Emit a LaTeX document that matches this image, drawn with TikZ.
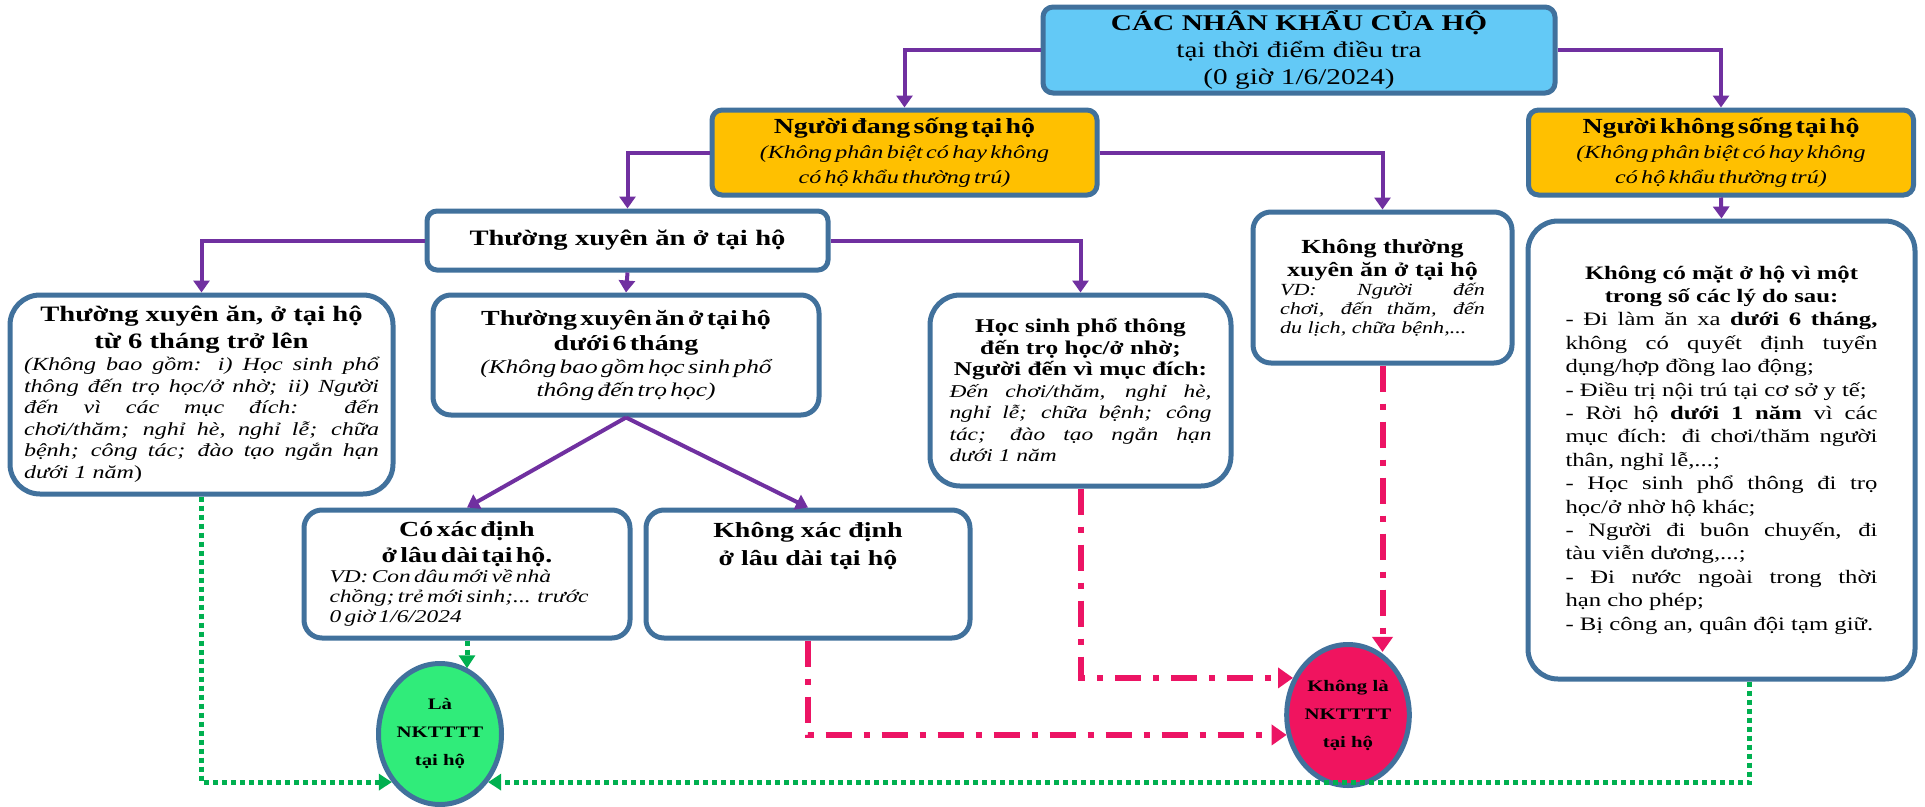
\documentclass[tikz,border=0pt]{standalone}
\usepackage{fontspec}
\setmainfont{Liberation Serif}[FakeStretch=1.3]
\usetikzlibrary{arrows.meta,shapes.geometric}

\definecolor{frameblue}{RGB}{65,113,156}
\definecolor{skyfill}{RGB}{99,201,246}
\definecolor{goldfill}{RGB}{255,192,0}
\definecolor{linkpurple}{RGB}{112,48,160}
\definecolor{keepgreen}{RGB}{0,176,80}
\definecolor{keepfill}{RGB}{48,236,122}
\definecolor{droppink}{RGB}{236,20,100}
\definecolor{dropfill}{RGB}{240,20,95}

\begin{document}
\begin{tikzpicture}[x=1pt,y=-1pt,
    headbox/.style ={draw=frameblue, line width=5pt, fill=skyfill, rounded corners=10pt, inner sep=0pt, align=center},
    goldbox/.style ={draw=frameblue, line width=5pt, fill=goldfill, rounded corners=10pt, inner sep=0pt, align=center},
    whitebox/.style={draw=frameblue, line width=5pt, fill=white, rounded corners=18pt, inner sep=0pt},
    verdict/.style ={ellipse, draw=frameblue, line width=5pt, inner sep=0pt, align=center, font=\fontsize{16}{28}\selectfont\bfseries},
    linkarrow/.style={draw=linkpurple, line width=4pt, -{Triangle[width=16pt,length=12pt]}},
    keeparrow/.style={draw=keepgreen, line width=5pt, dash pattern=on 5pt off 4pt, -{Triangle[width=16pt,length=13pt]}},
    droparrow/.style={draw=droppink, line width=6pt, dash pattern=on 26pt off 12pt on 6pt off 12pt, -{Triangle[width=20pt,length=15pt]}}]
   \fill[white] (0,0) rectangle (1925,806);
   \useasboundingbox (0,0) rectangle (1925,806);
   % top level
   \node[headbox, minimum width=512, minimum height=86, text width=500, font=\fontsize{22.5}{27}\selectfont] (census) at (1299,50)
      {\textbf{CÁC NHÂN KHẨU CỦA HỘ}\\ tại thời điểm điều tra\\ (0 giờ 1/6/2024)};
   \node[goldbox, minimum width=385, minimum height=85, text width=375] (live) at (904.5,152.5)
      {{\fontsize{21.5}{26}\selectfont\bfseries Người đang sống tại hộ\par}
       {\fontsize{18.5}{25}\selectfont\itshape (Không phân biệt có hay không\\ có hộ khẩu thường trú)\par}};
   \node[goldbox, minimum width=385, minimum height=85, text width=375] (notlive) at (1721,152.5)
      {{\fontsize{21.5}{26}\selectfont\bfseries Người không sống tại hộ\par}
       {\fontsize{18.5}{25}\selectfont\itshape (Không phân biệt có hay không\\ có hộ khẩu thường trú)\par}};
   % second level
   \node[whitebox, rounded corners=10pt, minimum width=401, minimum height=59, text width=390, align=center,
         font=\fontsize{22}{26}\selectfont\bfseries] (freq) at (627.5,240.5) {Thường xuyên ăn ở tại hộ};
   \node[whitebox, minimum width=259, minimum height=151, text width=205, align=justify] (notfreq) at (1382.5,287.5)
      {{\centering\fontsize{20}{23}\selectfont\bfseries Không thường\\ xuyên ăn ở tại hộ\par}
       {\fontsize{17}{19}\selectfont\itshape VD: Người đến\linebreak chơi, đến thăm, đến\linebreak du lịch, chữa bệnh,...\par}};
   \node[whitebox, rounded corners=30pt, minimum width=387, minimum height=458, text width=312, align=justify] (absent) at (1721.5,450)
      {{\centering\fontsize{19}{23.4}\selectfont\bfseries Không có mặt ở hộ vì một\\ trong số các lý do sau:\par}
       {\fontsize{19}{23.4}\selectfont
        - Đi làm ăn xa \textbf{dưới 6 tháng,}\linebreak không có quyết định tuyển\linebreak dụng/hợp đồng lao động;\\
        - Điều trị nội trú tại cơ sở y tế;\\
        - Rời hộ \textbf{dưới 1 năm} vì các\linebreak mục đích: đi chơi/thăm người\linebreak thân, nghỉ lễ,...;\\
        - Học sinh phổ thông đi trọ\linebreak học/ở nhờ hộ khác;\\
        - Người đi buôn chuyến, đi\linebreak tàu viễn dương,...;\\
        - Đi nước ngoài trong thời\linebreak hạn cho phép;\\
        - Bị công an, quân đội tạm giữ.\par}};
   % third level
   \node[whitebox, rounded corners=30pt, minimum width=383, minimum height=199, text width=355, align=justify] (long) at (201.5,394.5)
      {{\centering\fontsize{22}{27}\selectfont\bfseries Thường xuyên ăn, ở tại hộ\\ từ 6 tháng trở lên\par}
       {\fontsize{18.5}{21.6}\selectfont\itshape (Không bao gồm: i) Học sinh phổ\linebreak thông đến trọ học/ở nhờ; ii) Người\linebreak
        đến vì các mục đích: đến\linebreak chơi/thăm; nghỉ hè, nghỉ lễ; chữa\linebreak bệnh; công tác; đào tạo ngắn hạn\linebreak dưới 1 năm\upshape)\par}};
   \node[whitebox, minimum width=386, minimum height=120, text width=376, align=center] (short) at (626,355)
      {{\fontsize{21.5}{25}\selectfont\bfseries Thường xuyên ăn ở tại hộ\\ dưới 6 tháng\par}
       {\fontsize{19.5}{23}\selectfont\itshape (Không bao gồm học sinh phổ\\ thông đến trọ học)\par}};
   \node[whitebox, rounded corners=30pt, minimum width=301, minimum height=191, text width=262, align=justify] (pupil) at (1080.5,390.5)
      {{\centering\fontsize{19.5}{21.5}\selectfont\bfseries Học sinh phổ thông\\ đến trọ học/ở nhờ;\\ Người đến vì mục đích:\par}
       {\fontsize{18}{21.5}\selectfont\itshape Đến chơi/thăm, nghỉ hè,\linebreak nghỉ lễ; chữa bệnh; công\linebreak tác; đào tạo ngắn hạn\linebreak dưới 1 năm\par}};
   % fourth level
   \node[whitebox, minimum width=326, minimum height=128, text width=275, align=center] (firm) at (467,574)
      {{\fontsize{21.5}{26}\selectfont\bfseries Có xác định\\ ở lâu dài tại hộ.\par}
       {\raggedright\fontsize{18}{20}\selectfont\itshape VD: Con dâu mới về nhà\\ chồng; trẻ mới sinh;...\ \ trước\\ 0 giờ 1/6/2024\par}};
   \node[whitebox, minimum width=324, minimum height=128] (loose) at (808,574)
      {\parbox[c][104pt][t]{300pt}{\centering\fontsize{21.5}{28}\selectfont\bfseries Không xác định\\ ở lâu dài tại hộ}};
   % results
   \node[verdict, fill=keepfill, minimum width=123, minimum height=141] (yes) at (440,734) {Là\\NKTTTT\\tại hộ};
   \node[verdict, fill=dropfill, minimum width=122, minimum height=141] (no) at (1348,715) {Không là\\NKTTTT\\tại hộ};
   % tree links
   \draw[linkarrow] (census.west) -| (live.north);
   \draw[linkarrow] (census.east) -| (notlive.north);
   \draw[linkarrow] (live.west) -| (freq.north);
   \draw[linkarrow] (live.east) -| (notfreq.north);
   \draw[linkarrow] (notlive.south) -- (absent.north);
   \draw[linkarrow] (freq.west) -| (long.north);
   \draw[linkarrow] (freq.east) -| (pupil.north);
   \draw[linkarrow] (freq.south) -- (short.north);
   \draw[linkarrow] (short.south) -- (firm.north);
   \draw[linkarrow] (short.south) -- (loose.north);
   % counted
   \draw[keeparrow] (long.south) |- (yes.225);
   \draw[keeparrow] (absent.-83) |- (yes.315);
   \draw[keeparrow] (firm.south) -- (firm.south |- yes.67);
   % not counted
   \draw[droparrow] (pupil.south) |- (no.146);
   \draw[droparrow] (loose.south) |- (no.198);
   \draw[droparrow] (notfreq.south) -- (notfreq.south |- no.63);
\end{tikzpicture}
\end{document}
